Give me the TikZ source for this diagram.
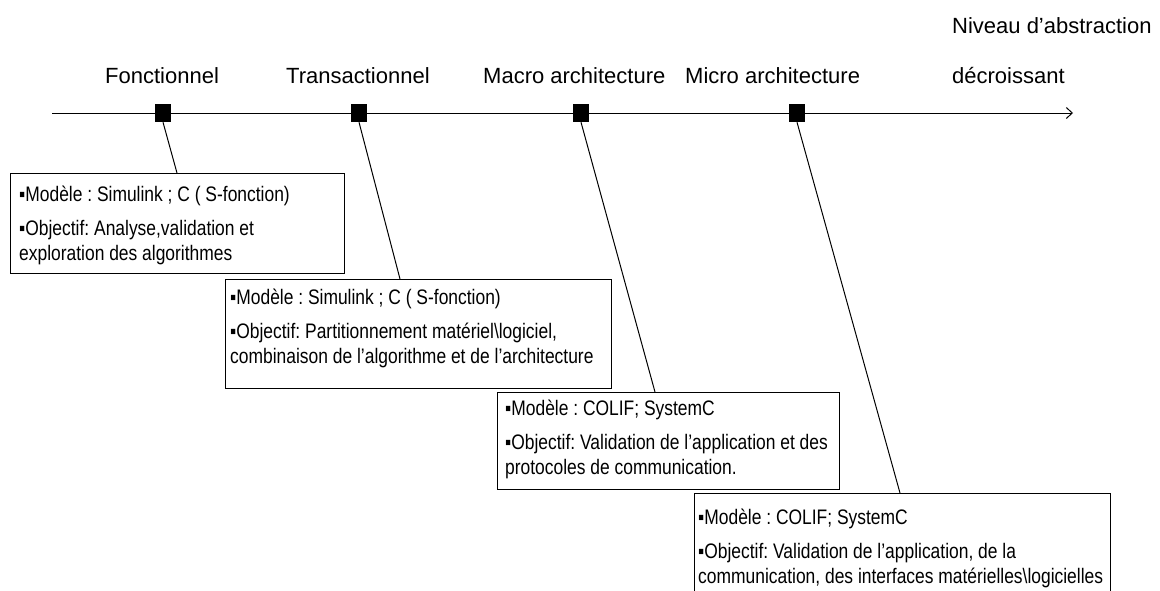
\documentclass[tikz,border=0pt]{standalone}
\usepackage{fontspec}
\setmainfont{Liberation Sans}
\newfontfamily\narrowsans[FakeStretch=0.83]{Liberation Sans}
\usetikzlibrary{arrows.meta}
\frenchspacing

\tikzset{
  lbl/.style={font=\fontsize{22}{26}\selectfont, inner sep=0pt, anchor=base west},
  marker/.style={fill=black, minimum width=16pt, minimum height=18pt, inner sep=0pt},
  frame/.style={draw, line width=1.2pt, anchor=north west, inner sep=0pt},
  info/.style={font=\narrowsans\fontsize{21}{25}\selectfont\frenchspacing, align=left,
               anchor=north west, inner sep=0pt},
  link/.style={line width=1pt},
  axisline/.style={line width=1pt, -{Straight Barb[length=6pt,width=11pt]}},
}

\begin{document}
\begin{tikzpicture}[x=1pt, y=-1pt]
  \useasboundingbox (0,0) rectangle (1160,590);
  \clip (0,0) rectangle (1160,590);

  % abstraction axis
  \coordinate (axstart) at (52,113);
  \coordinate (axend) at (1073,113);
  \draw[axisline] (axstart) -- (axend);

  % level labels
  \node[lbl] (l1) at (105,83) {Fonctionnel};
  \node[lbl] (l2) at (286,83) {Transactionnel};
  \node[lbl] (l3) at (483,83) {Macro architecture};
  \node[lbl] (l4) at (685,83) {Micro architecture};
  \node[lbl] (n1) at (952,33) {Niveau d’abstraction};
  \node[lbl] (n2) at (952,83) {décroissant};

  % level markers on the axis
  \node[marker] (s1) at (163,113) {};
  \node[marker] (s2) at (359,113) {};
  \node[marker] (s3) at (581,113) {};
  \node[marker] (s4) at (797,113) {};

  % description boxes
  \node[frame, minimum width=334pt, minimum height=100pt] (b1) at (10,173) {};
  \node[frame, minimum width=386pt, minimum height=109pt] (b2) at (225,279) {};
  \node[frame, minimum width=342pt, minimum height=97pt]  (b3) at (497,392) {};
  \node[frame, minimum width=416pt, minimum height=120pt] (b4) at (694,493) {};

  \node[info] (t1) at (19,186)
    {▪Modèle : Simulink ; C ( S-fonction)\\[9pt]
     ▪Objectif: Analyse,validation et\\
     exploration des algorithmes};
  \node[info] (t2) at (230,289)
    {▪Modèle : Simulink ; C ( S-fonction)\\[9pt]
     ▪Objectif: Partitionnement matériel\textbackslash logiciel,\\
     combinaison de l’algorithme et de l’architecture};
  \node[info] (t3) at (505,400)
    {▪Modèle : COLIF; SystemC\\[9pt]
     ▪Objectif: Validation de l’application et des\\
     protocoles de communication.};
  \node[info] (t4) at (698,509)
    {▪Modèle : COLIF; SystemC\\[9pt]
     ▪Objectif: Validation de l’application, de la\\
     communication, des interfaces matérielles\textbackslash logicielles};

  % connectors from markers to boxes
  \coordinate (c1) at (177,173);
  \coordinate (c2) at (400,279);
  \coordinate (c3) at (655,392);
  \coordinate (c4) at (900,493);
  \draw[link] (s1.south) -- (c1);
  \draw[link] (s2.south) -- (c2);
  \draw[link] (s3.south) -- (c3);
  \draw[link] (s4.south) -- (c4);
\end{tikzpicture}
\end{document}
